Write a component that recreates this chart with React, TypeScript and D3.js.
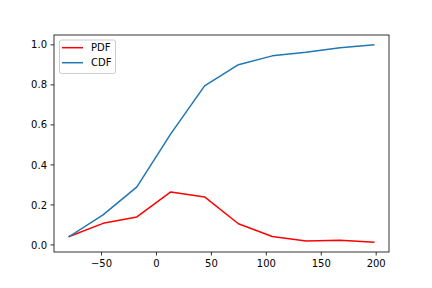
import React from "react";
import * as d3 from "d3";

const xValues = [-79.4, -48.6, -17.8, 13.0, 43.8, 74.6, 105.4, 136.2, 167.0, 197.8];
const pdfValues = [0.042, 0.108, 0.14, 0.265, 0.24, 0.106, 0.042, 0.02, 0.023, 0.014];
const cdfValues = [0.042, 0.15, 0.29, 0.555, 0.795, 0.901, 0.945, 0.963, 0.986, 1.0];
const xTicks = [-50, 0, 50, 100, 150, 200];
const yTicks = [0, 0.2, 0.4, 0.6, 0.8, 1.0];
const seriesNames = ["PDF", "CDF"];

const W = 432, H = 288;
const L = 54, R = 389, T = 35, B = 252;

export default function App() {
  const xMin = d3.min(xValues)!, xMax = d3.max(xValues)!;
  const allY = [...pdfValues, ...cdfValues];
  const yMin = d3.min(allY)!, yMax = d3.max(allY)!;
  const xm = (xMax - xMin) * 0.05, ym = (yMax - yMin) * 0.05;
  const x = d3.scaleLinear().domain([xMin - xm, xMax + xm]).range([L, R]);
  const y = d3.scaleLinear().domain([yMin - ym, yMax + ym]).range([B, T]);
  const line = d3.line<number>().x((_, i) => x(xValues[i])).y((d) => y(d));
  const fmtX = (v: number) => (v < 0 ? "\u2212" + Math.abs(v) : String(v));
  const font = "DejaVu Sans";
  const colors = ["#ff0000", "#1f77b4"];
  return (
    <svg width={W} height={H} style={{ display: "block", position: "absolute", left: 0, top: 0 }} fontFamily={font}>
      <rect x={0} y={0} width={W} height={H} fill="#fff" />
      <path d={line(pdfValues)!} fill="none" stroke={colors[0]} strokeWidth={1.5} strokeLinejoin="round" strokeLinecap="square" />
      <path d={line(cdfValues)!} fill="none" stroke={colors[1]} strokeWidth={1.5} strokeLinejoin="round" strokeLinecap="square" />
      <rect x={L} y={T} width={R - L} height={B - T} fill="none" stroke="#000" strokeWidth={0.8} />
      {xTicks.map((t) => (
        <g key={t}>
          <line x1={x(t)} x2={x(t)} y1={B} y2={B + 3.5} stroke="#000" strokeWidth={0.8} />
          <text x={x(t)} y={B + 15} fontSize={10} textAnchor="middle" fill="#000">{fmtX(t)}</text>
        </g>
      ))}
      {yTicks.map((t) => (
        <g key={t}>
          <line x1={L - 3.5} x2={L} y1={y(t)} y2={y(t)} stroke="#000" strokeWidth={0.8} />
          <text x={L - 7} y={y(t) + 3.6} fontSize={10} textAnchor="end" fill="#000">{t.toFixed(1)}</text>
        </g>
      ))}
      <g>
        <rect x={59.5} y={40} width={56} height={33.5} rx={2} fill="#fff" fillOpacity={0.8} stroke="#cccccc" strokeWidth={1} />
        {seriesNames.map((n, i) => (
          <g key={n}>
            <line x1={62} x2={83} y1={47.7 + i * 15} y2={47.7 + i * 15} stroke={colors[i]} strokeWidth={1.5} />
            <text x={91} y={51.3 + i * 15} fontSize={10} fill="#000">{n}</text>
          </g>
        ))}
      </g>
    </svg>
  );
}
